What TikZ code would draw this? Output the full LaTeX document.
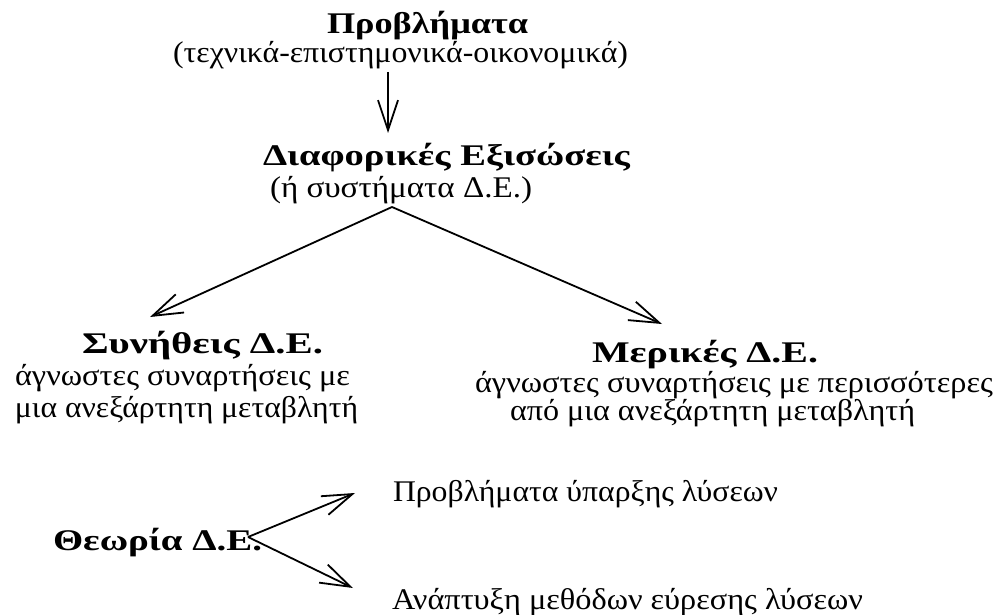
\documentclass[tikz,border=0pt]{standalone}
\usepackage{fontspec}
\setmainfont{Liberation Serif}
\usetikzlibrary{arrows.meta}
\begin{document}
\begin{tikzpicture}[x=1pt,y=-1pt,
  lbl/.style={inner sep=0pt,outer sep=0pt,anchor=base west,font=\fontsize{30}{33}\selectfont},
  arr/.style={line width=1.8pt,-{Straight Barb[length=30pt,width=20pt,line width=1.8pt]}}]
\useasboundingbox (0,0) rectangle (999,615);
\node[lbl] (p)   at (327,34)  {\resizebox{201pt}{\height}{\bfseries Προβλήματα}};
\node[lbl] (pt)  at (173,63)  {\resizebox{455pt}{\height}{(τεχνικά-επιστημονικά-οικονομικά)}};
\node[lbl] (de)  at (263,165) {\resizebox{367pt}{\height}{\bfseries Διαφορικές Εξισώσεις}};
\node[lbl] (ds)  at (270,197) {\resizebox{262pt}{\height}{(ή συστήματα Δ.Ε.)}};
\node[lbl] (sy)  at (82,353)  {\resizebox{241pt}{\height}{\bfseries Συνήθεις Δ.Ε.}};
\node[lbl] (sy1) at (15,385)  {\resizebox{335pt}{\height}{άγνωστες συναρτήσεις με}};
\node[lbl] (sy2) at (15,417)  {\resizebox{343pt}{\height}{μια ανεξάρτητη μεταβλητή}};
\node[lbl] (me)  at (592,362) {\resizebox{226pt}{\height}{\bfseries Μερικές Δ.Ε.}};
\node[lbl] (me1) at (475,392) {\resizebox{518pt}{\height}{άγνωστες συναρτήσεις με περισσότερες}};
\node[lbl] (me2) at (510,420) {\resizebox{405pt}{\height}{από μια ανεξάρτητη μεταβλητή}};
\node[lbl] (th)  at (53,550)  {\resizebox{209pt}{\height}{\bfseries Θεωρία Δ.Ε.}};
\node[lbl] (t1)  at (393,501) {\resizebox{385pt}{\height}{Προβλήματα ύπαρξης λύσεων}};
\node[lbl] (t2)  at (392,609) {\resizebox{471pt}{\height}{Ανάπτυξη μεθόδων εύρεσης λύσεων}};
\coordinate (a0) at (388,72);
\coordinate (a1) at (388,133);
\coordinate (br) at (392,207);
\coordinate (lt) at (150,317);
\coordinate (rt) at (662,324);
\coordinate (th0) at (248,537);
\coordinate (tu) at (355,493);
\coordinate (td) at (353,588);
\draw[arr] (a0) -- (a1);
\draw[arr] (br) -- (lt);
\draw[arr] (br) -- (rt);
\draw[arr] (th0) -- (tu);
\draw[arr] (th0) -- (td);
\end{tikzpicture}
\end{document}
